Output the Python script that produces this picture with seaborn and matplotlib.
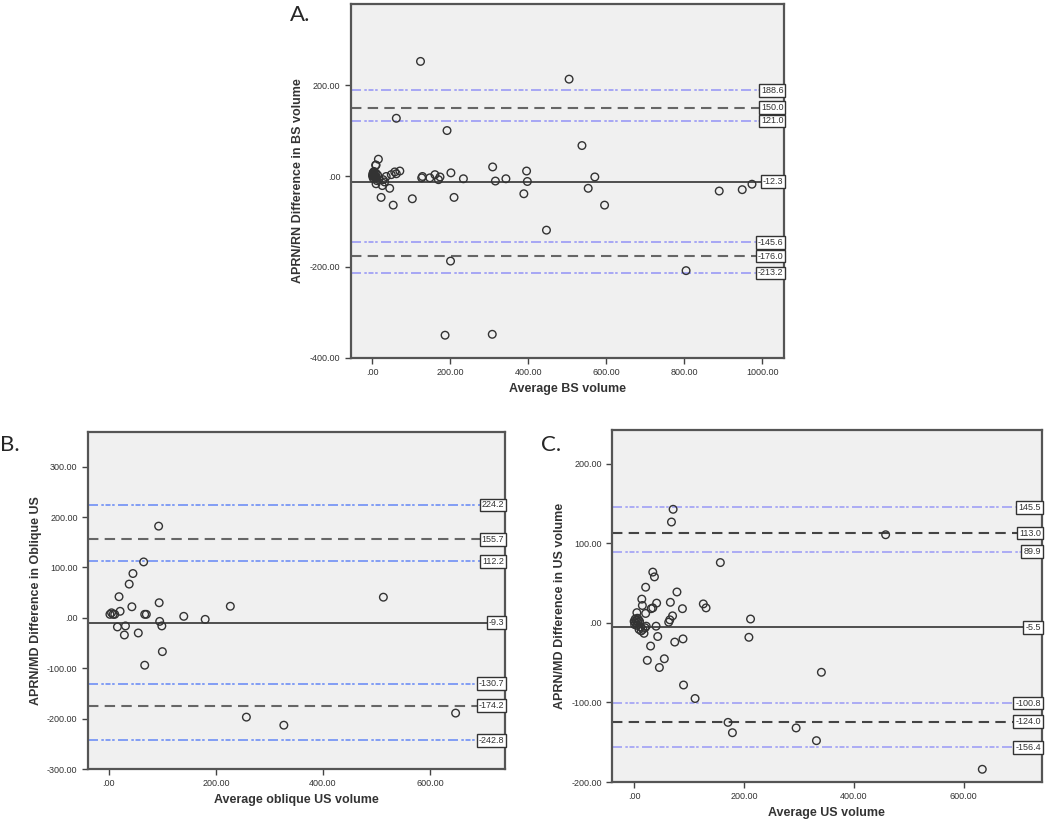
import matplotlib
matplotlib.use("Agg")
import matplotlib.pyplot as plt
import matplotlib.transforms as mtrans
import matplotlib.ticker as mtick
import pandas as pd
import seaborn as sns

# Panel A: average BS volume vs APRN/RN difference
a_x = [124, 505, 62, 192, 538, 16, 9, 10, 71, 58, 62, 49, 36, 28, 32, 17, 26, 10,
       309, 202, 396, 129, 127, 148, 161, 174, 170, 234, 316, 343, 398, 571,
       45, 23, 54, 103, 210, 389, 554, 596, 447, 201, 805, 890, 949, 974, 187, 308,
       2, 3, 4, 5, 1, 6, 8, 3, 10, 12, 14, 2, 5, 7, 4, 11]
a_y = [252, 213, 127, 100, 67, 37, 24, 24, 11, 9, 5, 3, -1, -8, -13, -8, -21, -17,
       20, 7, 11, -1, -4, -4, 3, -2, -8, -6, -11, -6, -12, -2,
       -27, -47, -64, -50, -47, -39, -27, -64, -119, -187, -208, -33, -30, -18, -350, -348,
       5, 8, 2, 10, 0, 4, -3, -5, 6, -10, 2, 3, -2, 1, 7, -4]
a_lines = [188.6, 150.0, 121.0, -12.3, -145.6, -176.0, -213.2]
a_labels = ["188.6", "150.0", "121.0", "-12.3", "-145.6", "-176.0", "-213.2"]

# Panel B: average oblique US volume vs APRN/MD difference
b_x = [93, 65, 45, 38, 19, 94, 43, 227, 513, 21, 2, 5, 8, 11, 67, 70, 140, 180,
       95, 99, 16, 31, 29, 55, 100, 67, 257, 327, 648]
b_y = [182, 111, 88, 67, 42, 30, 22, 23, 41, 13, 7, 10, 7, 7, 7, 7, 3, -3,
       -7, -16, -18, -16, -34, -30, -67, -94, -197, -213, -189]
b_lines = [224.2, 155.7, 112.2, -9.3, -130.7, -174.2, -242.8]
b_labels = ["224.2", "155.7", "112.2", "-9.3", "-130.7", "-174.2", "-242.8"]

# Panel C: average US volume vs APRN/MD difference
c_x = [71, 68, 458, 157, 34, 37, 21, 78, 14, 15, 41, 66, 126, 131, 88, 31, 34, 21,
       5, 70, 65, 63, 212, 40, 18, 43, 209, 89, 74, 30, 24, 55, 46, 341, 90, 111,
       171, 179, 295, 332, 634,
       2, 4, 6, 8, 1, 3, 10, 12, 9, 5, 13, 16, 20, 22, 7, 0]
c_y = [143, 127, 111, 76, 64, 58, 45, 39, 30, 22, 25, 26, 24, 19, 18, 18, 19, 12,
       13, 9, 4, 1, 5, -4, -13, -17, -18, -20, -24, -29, -47, -45, -56, -62, -78, -95,
       -125, -138, -132, -148, -184,
       5, 3, 6, 4, -2, 0, 2, -5, -8, -3, -10, -8, -6, -4, 1, 2]
c_lines = [145.5, 113.0, 89.9, -5.5, -100.8, -124.0, -156.4]
c_labels = ["145.5", "113.0", "89.9", "-5.5", "-100.8", "-124.0", "-156.4"]

sns.set_style("white")
plt.rcParams['font.family'] = ['Liberation Sans', 'DejaVu Sans']

fig = plt.figure(figsize=(10.5, 8.21), dpi=100)


def draw_panel(ax, xs, ys, lines, labels, xlim, ylim, yticks, xticks, xlabel, ylabel,
               blue='#9a9af5', grey='#666666'):
    df = pd.DataFrame({'x': xs, 'y': ys})
    ax.set_facecolor('#f0f0f0')
    # reference lines: CI (blue dash-dot), LoA (grey dashed), mean (solid)
    styles = ['ci', 'loa', 'ci', 'mean', 'ci', 'loa', 'ci']
    for val, st in zip(lines, styles):
        if st == 'ci':
            ax.axhline(val, color=blue, lw=1.2, dashes=(6, 2, 1.5, 1, 3, 1, 1.5, 2), zorder=1)
        elif st == 'loa':
            ax.axhline(val, color=grey, lw=1.5, dashes=(5, 3), zorder=1)
        else:
            ax.axhline(val, color='#222222', lw=1.1, zorder=1)
    sns.scatterplot(data=df, x='x', y='y', ax=ax, marker='o', s=30,
                    facecolors='none', edgecolor='#333333', linewidth=1.0, zorder=3)
    trans = mtrans.blended_transform_factory(ax.transAxes, ax.transData)
    for val, lab in zip(lines, labels):
        ax.text(0.998, val, lab, transform=trans, ha='right', va='center',
                fontsize=6.5, color='#333333', zorder=4,
                bbox=dict(boxstyle='square,pad=0.2', fc='white', ec='#333333', lw=1.0))
    ax.set_xlim(*xlim)
    ax.set_ylim(*ylim)
    ax.set_xticks(xticks)
    ax.set_yticks(yticks)
    fmt = mtick.FuncFormatter(lambda v, p: '.00' if v == 0 else '%.2f' % v)
    ax.xaxis.set_major_formatter(fmt)
    ax.yaxis.set_major_formatter(fmt)
    ax.tick_params(axis='both', direction='out', length=4, width=1, color='#444444',
                   labelsize=6.5, labelcolor='#333333', left=True, bottom=True)
    for sp in ax.spines.values():
        sp.set_color('#555555')
        sp.set_linewidth(1.6)
    ax.set_xlabel(xlabel, fontsize=9, fontweight='bold', color='#333333')
    ax.set_ylabel(ylabel, fontsize=9, fontweight='bold', color='#333333')


ax_a = fig.add_axes([0.334, 0.564, 0.413, 0.431])
draw_panel(ax_a, a_x, a_y, a_lines, a_labels, (-55, 1057), (-400, 378),
           [-400, -200, 0, 200], [0, 200, 400, 600, 800, 1000],
           'Average BS volume', 'APRN/RN Difference in BS volume')

ax_b = fig.add_axes([0.0838, 0.0633, 0.397, 0.410])
draw_panel(ax_b, b_x, b_y, b_lines, b_labels, (-39, 740), (-300, 368),
           [-300, -200, -100, 0, 100, 200, 300], [0, 200, 400, 600],
           'Average oblique US volume', 'APRN/MD Difference in Oblique US',
           blue='#6f8ff5')

ax_c = fig.add_axes([0.583, 0.0475, 0.409, 0.429])
draw_panel(ax_c, c_x, c_y, c_lines, c_labels, (-40, 742), (-200, 243),
           [-200, -100, 0, 100, 200], [0, 200, 400, 600],
           'Average US volume', 'APRN/MD Difference in US volume',
           blue='#a0a0f5', grey='#444444')

fig.text(0.276, 0.982, 'A.', fontsize=16, family=['Lato', 'DejaVu Sans'], va='center')
fig.text(0.0, 0.458, 'B.', fontsize=16, family=['Lato', 'DejaVu Sans'], va='center')
fig.text(0.515, 0.458, 'C.', fontsize=16, family=['Lato', 'DejaVu Sans'], va='center')

fig.savefig('out.png', dpi=100, facecolor='white')
